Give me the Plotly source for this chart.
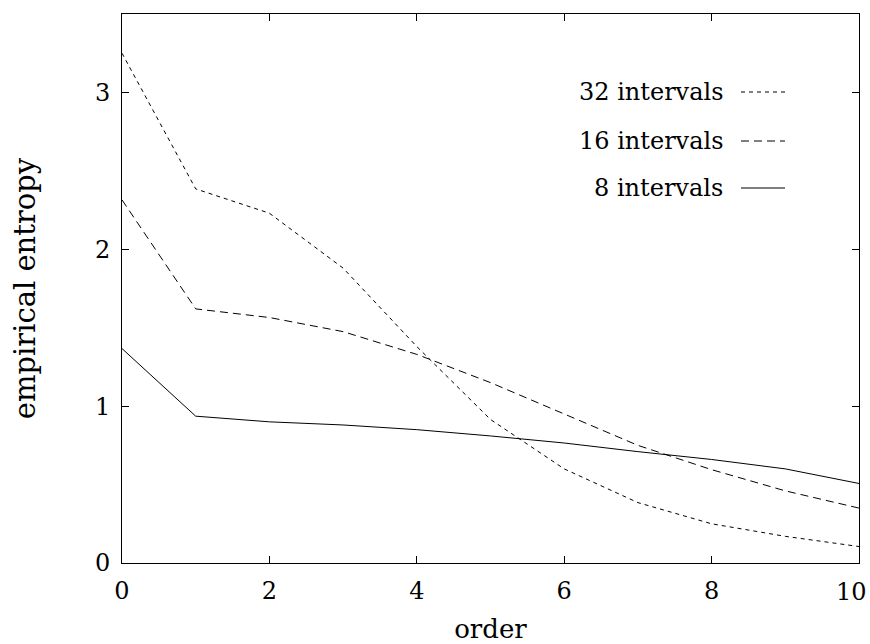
import plotly.graph_objects as go

order = [0, 1, 2, 3, 4, 5, 6, 7, 8, 9, 10]
ent32 = [3.25, 2.385, 2.23, 1.88, 1.38, 0.915, 0.6, 0.385, 0.25, 0.17, 0.105]
ent16 = [2.315, 1.62, 1.565, 1.475, 1.33, 1.15, 0.95, 0.75, 0.595, 0.46, 0.35]
ent8 = [1.367, 0.936, 0.9, 0.88, 0.85, 0.81, 0.765, 0.71, 0.66, 0.6, 0.507]
names = ["32 intervals", "16 intervals", "8 intervals"]
dashes = ["4px,4px", "8px,5px", "solid"]
series = [ent32, ent16, ent8]
xticks = [0, 2, 4, 6, 8, 10]
yticks = [0, 1, 2, 3]

FONT = "DejaVu Serif"
L, R, T, B = 122, 11, 14, 81
W, H = 870, 644
pw, ph = W - L - R, H - T - B

fig = go.Figure()
for nm, ys, d in zip(names, series, dashes):
    fig.add_trace(go.Scatter(x=order, y=ys, mode="lines", name=nm,
                             line=dict(color="black", width=1, dash=d),
                             showlegend=False))

# legend drawn manually (text right-aligned, sample on the right)
leg_y = [92, 141, 188]
for nm, d, py in zip(names, dashes, leg_y):
    yp = (H - B - py) / ph
    fig.add_annotation(x=(725 - L) / pw, y=yp, xref="paper", yref="paper",
                       text=nm, showarrow=False, xanchor="right", yanchor="middle",
                       font=dict(family=FONT, size=24, color="black"))
    fig.add_shape(type="line", xref="paper", yref="paper",
                  x0=(741 - L) / pw, x1=(785 - L) / pw, y0=yp, y1=yp,
                  line=dict(color="black", width=1, dash=d))

# last x tick label kept inside the page (right-aligned at the axis end)
xticktext = [str(v) for v in xticks[:-1]] + [""]
fig.add_annotation(x=xticks[-1], y=0, xref="x", yref="paper", text=str(xticks[-1]),
                   showarrow=False, xanchor="right", yanchor="top", xshift=10, yshift=-13,
                   font=dict(family=FONT, size=24, color="black"))

axis_common = dict(showline=True, linecolor="black", linewidth=1, mirror="allticks",
                   ticks="inside", ticklen=7, tickcolor="black", showgrid=False,
                   zeroline=False,
                   tickfont=dict(family=FONT, size=24, color="black"))
fig.update_xaxes(range=[0, 10], tickvals=xticks, ticktext=xticktext, automargin=False,
                 ticklabelstandoff=6,
                 title=dict(text="order", font=dict(family=FONT, size=26, color="black"), standoff=16),
                 **axis_common)
fig.update_yaxes(range=[0, 3.5], tickvals=yticks, automargin=False,
                 ticklabelstandoff=6,
                 title=dict(text="empirical entropy", font=dict(family=FONT, size=29, color="black"), standoff=50),
                 **axis_common)
fig.update_layout(width=W, height=H, margin=dict(l=L, r=R, t=T, b=B),
                  plot_bgcolor="white", paper_bgcolor="white",
                  font=dict(family=FONT, color="black"))
fig.write_html("out.html")
